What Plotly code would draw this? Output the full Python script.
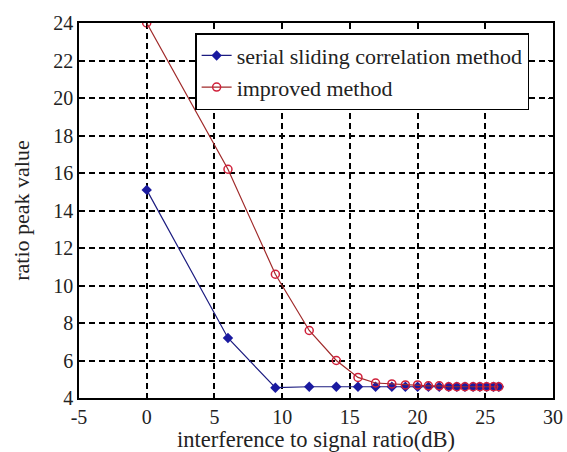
import plotly.graph_objects as go

# Data
isr_db = [0, 6.0, 9.5, 12.0, 14.0, 15.6, 16.9, 18.1, 19.1, 20.0,
          20.8, 21.6, 22.3, 22.9, 23.5, 24.1, 24.6, 25.1, 25.6, 26.0]
serial_vals = [15.1, 7.2, 4.55, 4.6, 4.6, 4.6, 4.6, 4.6, 4.6, 4.6,
               4.6, 4.6, 4.6, 4.6, 4.6, 4.6, 4.6, 4.6, 4.6, 4.6]
improved_vals = [24.0, 16.2, 10.6, 7.6, 6.0, 5.1, 4.8, 4.75, 4.7, 4.7,
                 4.65, 4.65, 4.6, 4.6, 4.6, 4.6, 4.6, 4.6, 4.6, 4.6]
series_names = ["serial sliding correlation method", "improved method"]
x_ticks = [-5, 0, 5, 10, 15, 20, 25, 30]
y_ticks = [4, 6, 8, 10, 12, 14, 16, 18, 20, 22, 24]

FONT = "Liberation Serif, Times New Roman, serif"
TXT = "#222222"

fig = go.Figure()
fig.add_trace(go.Scatter(
    x=isr_db, y=serial_vals, name=series_names[0], mode="lines+markers",
    line=dict(color="#1c1c80", width=1.2),
    marker=dict(symbol="diamond", size=8, color="#1a1aa0"),
))
fig.add_trace(go.Scatter(
    x=isr_db, y=improved_vals, name=series_names[1], mode="lines+markers",
    line=dict(color="#a02a2a", width=1.2),
    marker=dict(symbol="circle-open", size=8, color="#d0203a", line=dict(width=1.5)),
))

axis_common = dict(
    showline=True, linecolor="black", linewidth=1.6, mirror="ticks",
    ticks="inside", ticklen=5, tickcolor="black", tickwidth=1.2,
    showgrid=True, gridcolor="black", gridwidth=1.6, griddash="6px,4px",
    zeroline=False, tickfont=dict(family=FONT, size=20, color=TXT),
)

fig.update_xaxes(range=[-5, 30], tickvals=x_ticks, ticktext=[str(v) for v in x_ticks],
                 **axis_common,
                 title=dict(text="interference to signal ratio(dB)",
                            font=dict(family=FONT, size=22.5, color=TXT), standoff=2))
fig.update_yaxes(range=[4, 24], tickvals=y_ticks, ticktext=[str(v) for v in y_ticks],
                 **axis_common,
                 title=dict(text="ratio peak value",
                            font=dict(family=FONT, size=22, color=TXT), standoff=18))

fig.update_layout(
    width=567, height=452,
    margin=dict(l=79, r=14, t=23, b=54, autoexpand=False),
    paper_bgcolor="white", plot_bgcolor="white",
    legend=dict(x=0.245, y=0.973, xanchor="left", yanchor="top",
                bgcolor="white", bordercolor="black", borderwidth=1.5,
                font=dict(family=FONT, size=22, color=TXT),
                tracegroupgap=0, itemwidth=30),
    showlegend=True,
)

fig.write_html(
    "out.html",
    config={"displayModeBar": False},
    post_script="document.body.style.margin='0';document.body.style.overflow='hidden';",
)
